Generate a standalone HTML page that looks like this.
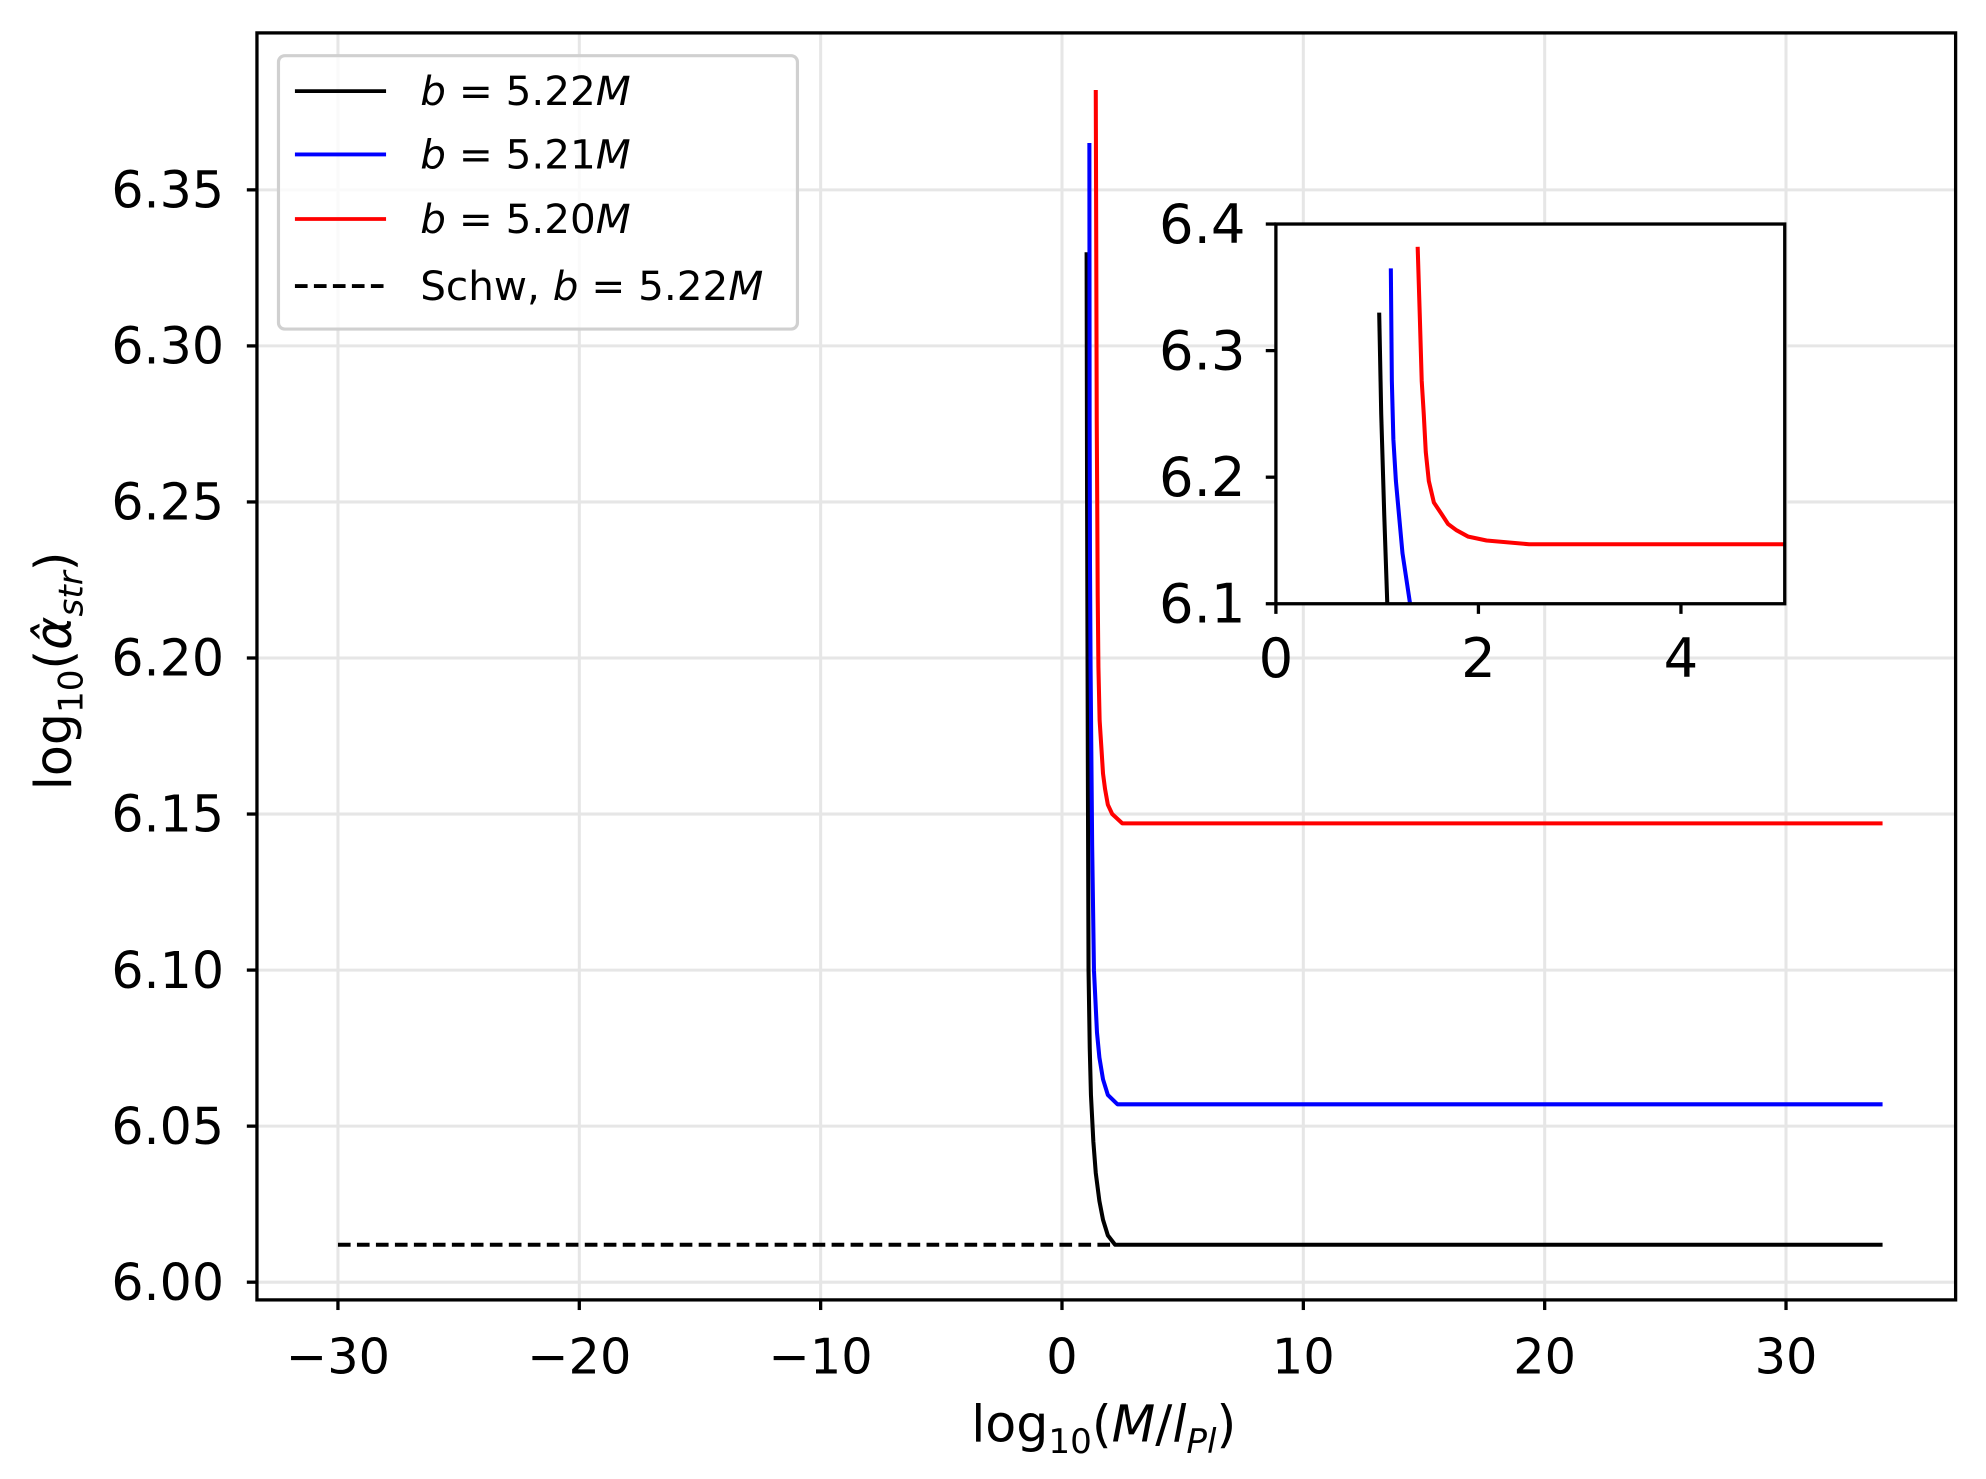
<!DOCTYPE html>
<html><head><meta charset="utf-8"><style>
html,body{margin:0;padding:0;background:#fff;}
svg{display:block;font-family:"DejaVu Sans","Liberation Sans",sans-serif;}
</style></head><body>
<svg id="chart" width="1986" height="1479" viewBox="0 0 1569 1168.5" preserveAspectRatio="none" xmlns="http://www.w3.org/2000/svg">
<defs>
<clipPath id="mainClip"><rect x="203" y="26" width="1342" height="1001"/></clipPath>
<clipPath id="insetClip"><rect x="1008" y="177" width="402" height="300"/></clipPath>
</defs>
<rect x="0" y="0" width="1569" height="1169" fill="#fff"/>
<g id="mainGrid"></g>
<g id="mainSeries" clip-path="url(#mainClip)"></g>
<rect x="203" y="26" width="1342" height="1001" fill="none" stroke="#000" stroke-width="2.6"/>
<g id="mainTicks"></g>
<text x="872" y="1139" font-size="40" text-anchor="middle">log<tspan font-size="27" dy="9">10</tspan><tspan dy="-9">(</tspan><tspan font-style="italic">M</tspan>/<tspan font-style="italic">l</tspan><tspan font-size="27" dy="9" font-style="italic">Pl</tspan><tspan dy="-9">)</tspan></text>
<text transform="translate(56,530) rotate(-90)" font-size="40" text-anchor="middle">log<tspan font-size="27" dy="9">10</tspan><tspan dy="-9">(</tspan><tspan font-style="italic">α̂</tspan><tspan font-size="27" dy="9" font-style="italic">str</tspan><tspan dy="-9">)</tspan></text>
<g>
<rect x="220" y="44" width="410" height="216" rx="5" fill="#fff" fill-opacity="0.8" stroke="#d0d0d0" stroke-width="2.5"/>
<line x1="233" y1="72" x2="305" y2="72" stroke="#000" stroke-width="3"/>
<text x="332" y="83" font-size="32"><tspan font-style="italic">b</tspan> = 5.22<tspan font-style="italic">M</tspan></text>
<line x1="233" y1="122" x2="305" y2="122" stroke="#0000ff" stroke-width="3"/>
<text x="332" y="133" font-size="32"><tspan font-style="italic">b</tspan> = 5.21<tspan font-style="italic">M</tspan></text>
<line x1="233" y1="173" x2="305" y2="173" stroke="#ff0000" stroke-width="3"/>
<text x="332" y="184" font-size="32"><tspan font-style="italic">b</tspan> = 5.20<tspan font-style="italic">M</tspan></text>
<line x1="233" y1="226" x2="305" y2="226" stroke="#000" stroke-width="3" stroke-dasharray="10,5"/>
<text x="332" y="237" font-size="32">Schw, <tspan font-style="italic">b</tspan> = 5.22<tspan font-style="italic">M</tspan></text>
</g>
<rect x="1008" y="177" width="402" height="300" fill="#fff"/>
<g id="insetSeries" clip-path="url(#insetClip)"></g>
<rect x="1008" y="177" width="402" height="300" fill="none" stroke="#000" stroke-width="2.6"/>
<g id="insetTicks"></g>
</svg>
<script>
const blackX = [1.02, 1.04, 1.07, 1.10, 1.15, 1.2, 1.3, 1.4, 1.55, 1.7, 1.9, 2.2, 34];
const blackY = [6.33, 6.25, 6.17, 6.10, 6.075, 6.06, 6.045, 6.035, 6.026, 6.02, 6.015, 6.012, 6.012];
const blueX = [1.135, 1.145, 1.16, 1.185, 1.25, 1.325, 1.45, 1.55, 1.7, 1.9, 2.3, 34];
const blueY = [6.365, 6.276, 6.23, 6.197, 6.14, 6.10, 6.08, 6.072, 6.065, 6.06, 6.057, 6.057];
const redX = [1.40, 1.42, 1.44, 1.46, 1.48, 1.51, 1.56, 1.635, 1.70, 1.785, 1.9, 2.08, 2.5, 34];
const redY = [6.382, 6.33, 6.276, 6.25, 6.22, 6.197, 6.18, 6.171, 6.163, 6.158, 6.153, 6.150, 6.147, 6.147];
const schwX = [-30, 2.2];
const schwY = [6.012, 6.012];
const mainXTicks = [-30, -20, -10, 0, 10, 20, 30];
const mainXTickLabels = ["\u221230", "\u221220", "\u221210", "0", "10", "20", "30"];
const mainYTicks = [6.00, 6.05, 6.10, 6.15, 6.20, 6.25, 6.30, 6.35];
const mainYTickLabels = ["6.00", "6.05", "6.10", "6.15", "6.20", "6.25", "6.30", "6.35"];
const insetXTicks = [0, 2, 4];
const insetXTickLabels = ["0", "2", "4"];
const insetYTicks = [6.1, 6.2, 6.3, 6.4];
const insetYTickLabels = ["6.1", "6.2", "6.3", "6.4"];

const NS = "http://www.w3.org/2000/svg";
const mx = v => 839 + (v - 0) * 19.067;
const my = v => 1013 - (v - 6.0) * 2465.7;
const ix = v => 1008 + v * 80;
const iy = v => 477 - (v - 6.1) * 1000;

function mk(tag, attrs, parent) {
  const e = document.createElementNS(NS, tag);
  for (const k in attrs) e.setAttribute(k, attrs[k]);
  parent.appendChild(e);
  return e;
}
function pathD(xs, ys, fx, fy) {
  return xs.map((x, i) => (i ? "L" : "M") + fx(x).toFixed(2) + "," + fy(ys[i]).toFixed(2)).join(" ");
}
const grid = document.getElementById("mainGrid");
mainXTicks.forEach(t => {
  const l = mk("line", {x1: mx(t), x2: mx(t), y1: 26, y2: 1027, stroke: "#e6e6e6", "stroke-width": 2.4}, grid);
  
  
});
mainYTicks.forEach(t => {
  const l = mk("line", {x1: 203, x2: 1545, y1: my(t), y2: my(t), stroke: "#e6e6e6", "stroke-width": 2.4}, grid);
  
  
});
const ms = document.getElementById("mainSeries");
const series = [
  ["schw-b522-line", schwX, schwY, "#000", "10,5"],
  ["b522-line", blackX, blackY, "#000", null],
  ["b521-line", blueX, blueY, "#0000ff", null],
  ["b520-line", redX, redY, "#ff0000", null]
];
series.forEach(s => {
  const p = mk("path", {d: pathD(s[1], s[2], mx, my), fill: "none", stroke: s[3], "stroke-width": 3.2, "stroke-linejoin": "round"}, ms);
  if (s[4]) p.setAttribute("stroke-dasharray", s[4]);
  
  
});
const is = document.getElementById("insetSeries");
series.slice(1).forEach(s => {
  const p = mk("path", {d: pathD(s[1], s[2], ix, iy), fill: "none", stroke: s[3], "stroke-width": 3.2, "stroke-linejoin": "round"}, is);
  
  
});
const mt = document.getElementById("mainTicks");
mainXTicks.forEach((t, i) => {
  const l = mk("line", {x1: mx(t), x2: mx(t), y1: 1027, y2: 1035, stroke: "#000", "stroke-width": 2.6}, mt);
  
  
  const tx = mk("text", {x: mx(t), y: 1085, "font-size": 39, "text-anchor": "middle"}, mt);
  tx.textContent = mainXTickLabels[i];
  
  
});
mainYTicks.forEach((t, i) => {
  const l = mk("line", {x1: 195, x2: 203, y1: my(t), y2: my(t), stroke: "#000", "stroke-width": 2.6}, mt);
  
  
  const tx = mk("text", {x: 177, y: my(t) + 14, "font-size": 40, "text-anchor": "end"}, mt);
  tx.textContent = mainYTickLabels[i];
  
  
});
const it = document.getElementById("insetTicks");
insetXTicks.forEach((t, i) => {
  const l = mk("line", {x1: ix(t), x2: ix(t), y1: 477, y2: 485, stroke: "#000", "stroke-width": 2.6}, it);
  
  
  const tx = mk("text", {x: ix(t), y: 535, "font-size": 43, "text-anchor": "middle"}, it);
  tx.textContent = insetXTickLabels[i];
  
  
});
insetYTicks.forEach((t, i) => {
  const l = mk("line", {x1: 1000, x2: 1008, y1: iy(t), y2: iy(t), stroke: "#000", "stroke-width": 2.6}, it);
  
  
  const tx = mk("text", {x: 984, y: iy(t) + 15, "font-size": 43, "text-anchor": "end"}, it);
  tx.textContent = insetYTickLabels[i];
  
  
});
</script>
</body></html>
